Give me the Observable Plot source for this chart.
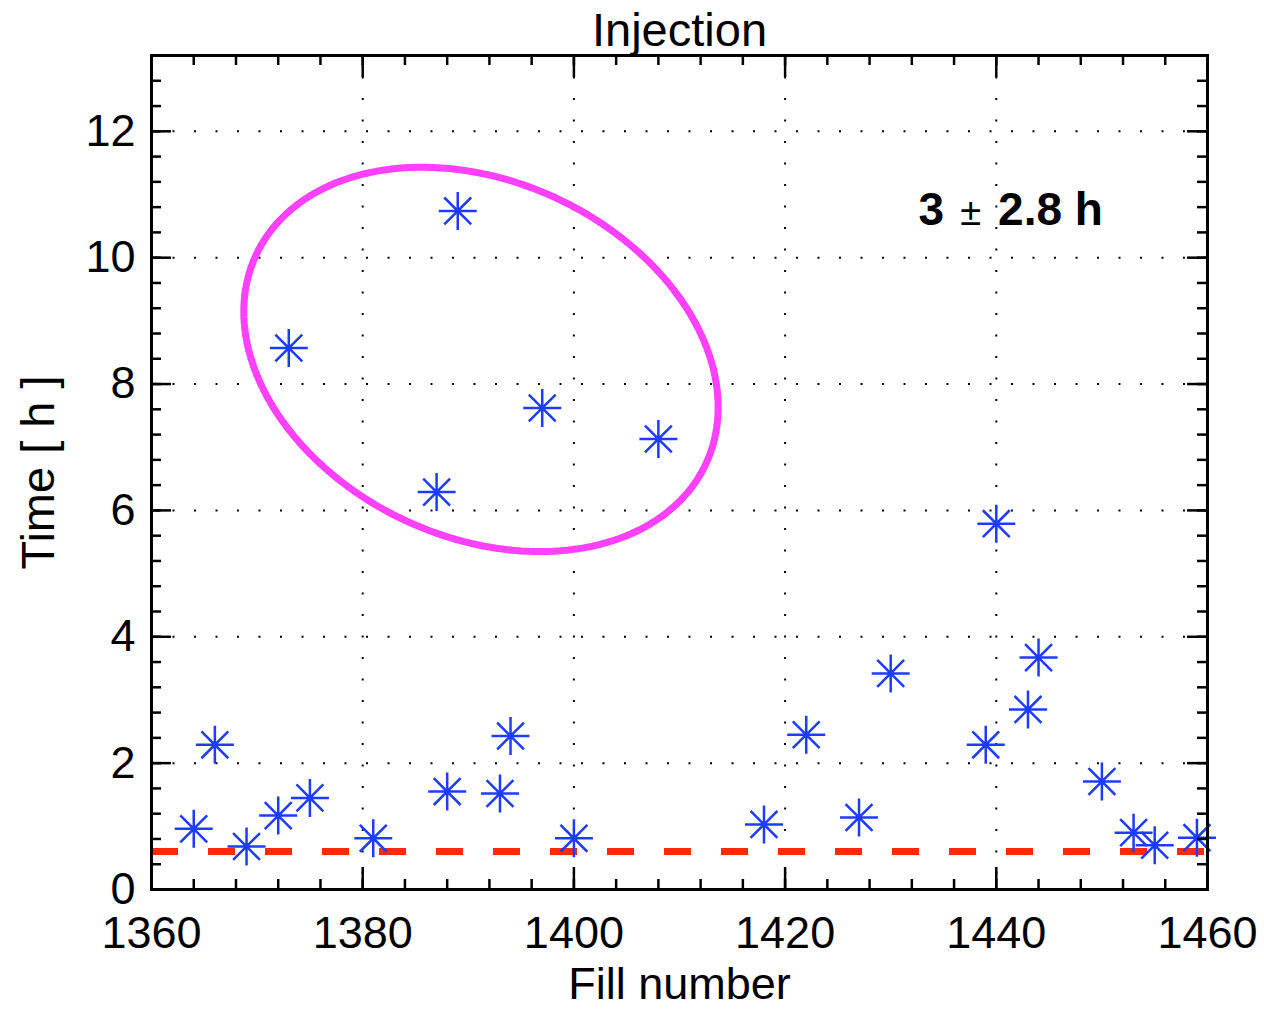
<!DOCTYPE html>
<html>
<head>
<meta charset="utf-8">
<script src="https://cdn.jsdelivr.net/npm/d3@7"></script>
<script src="https://cdn.jsdelivr.net/npm/@observablehq/plot@0.6"></script>
<style>
  html, body { margin: 0; padding: 0; background: white; }
</style>
</head>
<body>
<div id="chart"></div>
<script>
// ---- data ----
const fills = [1364, 1366, 1369, 1372, 1373, 1375, 1381, 1387, 1388, 1389, 1393, 1394, 1397, 1400,
               1408, 1418, 1422, 1427, 1430, 1439, 1440, 1443, 1444, 1450, 1453, 1455, 1459];
const hours = [0.96, 2.29, 0.68, 1.17, 8.57, 1.45, 0.81, 6.29, 1.55, 10.74, 1.52, 2.43, 7.62, 0.81,
               7.13, 1.03, 2.45, 1.14, 3.42, 2.29, 5.79, 2.85, 3.67, 1.71, 0.90, 0.70, 0.82];
const thresholdHours = [0.6];
const xMajorTicks = [1360, 1380, 1400, 1420, 1440, 1460];
const yMajorTicks = [0, 2, 4, 6, 8, 10, 12];
const xMinorTicks = d3.range(1360, 1460.01, 4);
const yMinorTicks = d3.range(0, 33).map(i => +(i * 0.4).toFixed(1));
const meanText = "3", pmText = "±", sigmaText = "2.8 h";
const titleText = "Injection", xLabel = "Fill number", yLabel = "Time [ h ]";

// ---- layout / styles ----
const W = 1264, H = 1010;
const ML = 151, MR = 57, MT = 55, MB = 121;
const FW = W - ML - MR, FH = H - MT - MB;
const xDomain = [1360, 1460], yDomain = [0, 13.2];
const FONT = "Liberation Sans, Arial, Helvetica, sans-serif";
const BLUE = "#1e3cff", RED = "#ff2b00", MAGENTA = "#ff40ff";

// annotation placement (data units) and ellipse (center in data units, radii in px)
const annotX = 1441.4, annotY = 10.51;
const ellCenter = [1391.2, 8.39];
const ellRadii = [248, 178];
const ellAngleDeg = 24.8;

const data = fills.map((f, i) => ({fill: f, hours: hours[i]}));

// scales matching Plot's, used to place the ellipse annotation
const xs = d3.scaleLinear().domain(xDomain).range([ML, W - MR]);
const ys = d3.scaleLinear().domain(yDomain).range([H - MB, MT]);
const th = ellAngleDeg * Math.PI / 180;
const cpx = xs(ellCenter[0]), cpy = ys(ellCenter[1]);
const ellipse = d3.range(0, 360, 2).map(deg => {
  const t = deg * Math.PI / 180;
  const px = cpx + ellRadii[0] * Math.cos(t) * Math.cos(th) - ellRadii[1] * Math.sin(t) * Math.sin(th);
  const py = cpy + ellRadii[0] * Math.cos(t) * Math.sin(th) + ellRadii[1] * Math.sin(t) * Math.cos(th);
  return {x: xs.invert(px), y: ys.invert(py)};
});

// 8-armed asterisk symbol
const asterisk8 = {
  draw(ctx, size) {
    const r = Math.sqrt(size / Math.PI);
    const d = r * Math.SQRT1_2;
    ctx.moveTo(0, -r); ctx.lineTo(0, r);
    ctx.moveTo(-r, 0); ctx.lineTo(r, 0);
    ctx.moveTo(-d, -d); ctx.lineTo(d, d);
    ctx.moveTo(-d, d); ctx.lineTo(d, -d);
  }
};

const chart = Plot.plot({
  width: W, height: H,
  marginLeft: ML, marginRight: MR, marginTop: MT, marginBottom: MB,
  x: {domain: xDomain, axis: null},
  y: {domain: yDomain, axis: null},
  style: {fontFamily: FONT, background: "white", color: "black"},
  marks: [
    // dotted grid
    Plot.ruleX(xMajorTicks.slice(1, -1), {stroke: "black", strokeWidth: 2, strokeDasharray: "2,19.5"}),
    Plot.ruleY(yMajorTicks.slice(1), {stroke: "black", strokeWidth: 2, strokeDasharray: "2,19.5"}),
    // threshold dashed line
    Plot.ruleY(thresholdHours, {stroke: RED, strokeWidth: 7, strokeDasharray: "27,30"}),
    // ellipse annotation
    Plot.line(ellipse, {x: "x", y: "y", curve: "linear-closed", stroke: MAGENTA, strokeWidth: 7}),
    // points
    Plot.dot(data, {x: "fill", y: "hours", symbol: asterisk8, r: 19, stroke: BLUE, strokeWidth: 2.5, fill: "none"}),
    // frame
    Plot.frame({stroke: "black", strokeWidth: 3}),
    // ticks (inward, all four sides)
    Plot.ruleX(xMajorTicks, {insetTop: FH - 22, stroke: "black", strokeWidth: 2.5}),
    Plot.ruleX(xMajorTicks, {insetBottom: FH - 22, stroke: "black", strokeWidth: 2.5}),
    Plot.ruleX(xMinorTicks, {insetTop: FH - 10, stroke: "black", strokeWidth: 2.5}),
    Plot.ruleX(xMinorTicks, {insetBottom: FH - 10, stroke: "black", strokeWidth: 2.5}),
    Plot.ruleY(yMajorTicks, {insetRight: FW - 20, stroke: "black", strokeWidth: 2.5}),
    Plot.ruleY(yMajorTicks, {insetLeft: FW - 20, stroke: "black", strokeWidth: 2.5}),
    Plot.ruleY(yMinorTicks, {insetRight: FW - 10, stroke: "black", strokeWidth: 2.5}),
    Plot.ruleY(yMinorTicks, {insetLeft: FW - 10, stroke: "black", strokeWidth: 2.5}),
    // tick labels
    Plot.text(xMajorTicks, {x: d => d, frameAnchor: "bottom", dy: 58, lineAnchor: "bottom", textAnchor: "middle", text: d => String(d), fontSize: 45, fill: "black"}),
    Plot.text(yMajorTicks, {y: d => d, frameAnchor: "left", dx: -16, textAnchor: "end", lineAnchor: "middle", text: d => String(d), fontSize: 45, fill: "black"}),
    // axis labels & title
    Plot.text([xLabel], {frameAnchor: "bottom", dy: 109, lineAnchor: "bottom", textAnchor: "middle", text: d => d, fontSize: 45, fill: "black"}),
    Plot.text([yLabel], {frameAnchor: "left", dx: -113, rotate: -90, lineAnchor: "middle", textAnchor: "middle", text: d => d, fontSize: 47, fill: "black"}),
    Plot.text([titleText], {frameAnchor: "top", dy: -10, lineAnchor: "bottom", textAnchor: "middle", text: d => d, fontSize: 47, fill: "black"}),
    // statistics annotation
    Plot.text([meanText], {x: () => annotX, y: () => annotY, dx: -67, textAnchor: "end", lineAnchor: "bottom", text: d => d, fontSize: 46, fontWeight: "bold", fill: "black"}),
    Plot.text([pmText], {x: () => annotX, y: () => annotY, dx: -40.5, textAnchor: "middle", lineAnchor: "bottom", text: d => d, fontSize: 38, fill: "black"}),
    Plot.text([sigmaText], {x: () => annotX, y: () => annotY, dx: -13, textAnchor: "start", lineAnchor: "bottom", text: d => d, fontSize: 46, fontWeight: "bold", fill: "black"})
  ]
});
document.getElementById("chart").appendChild(chart);
</script>
</body>
</html>
